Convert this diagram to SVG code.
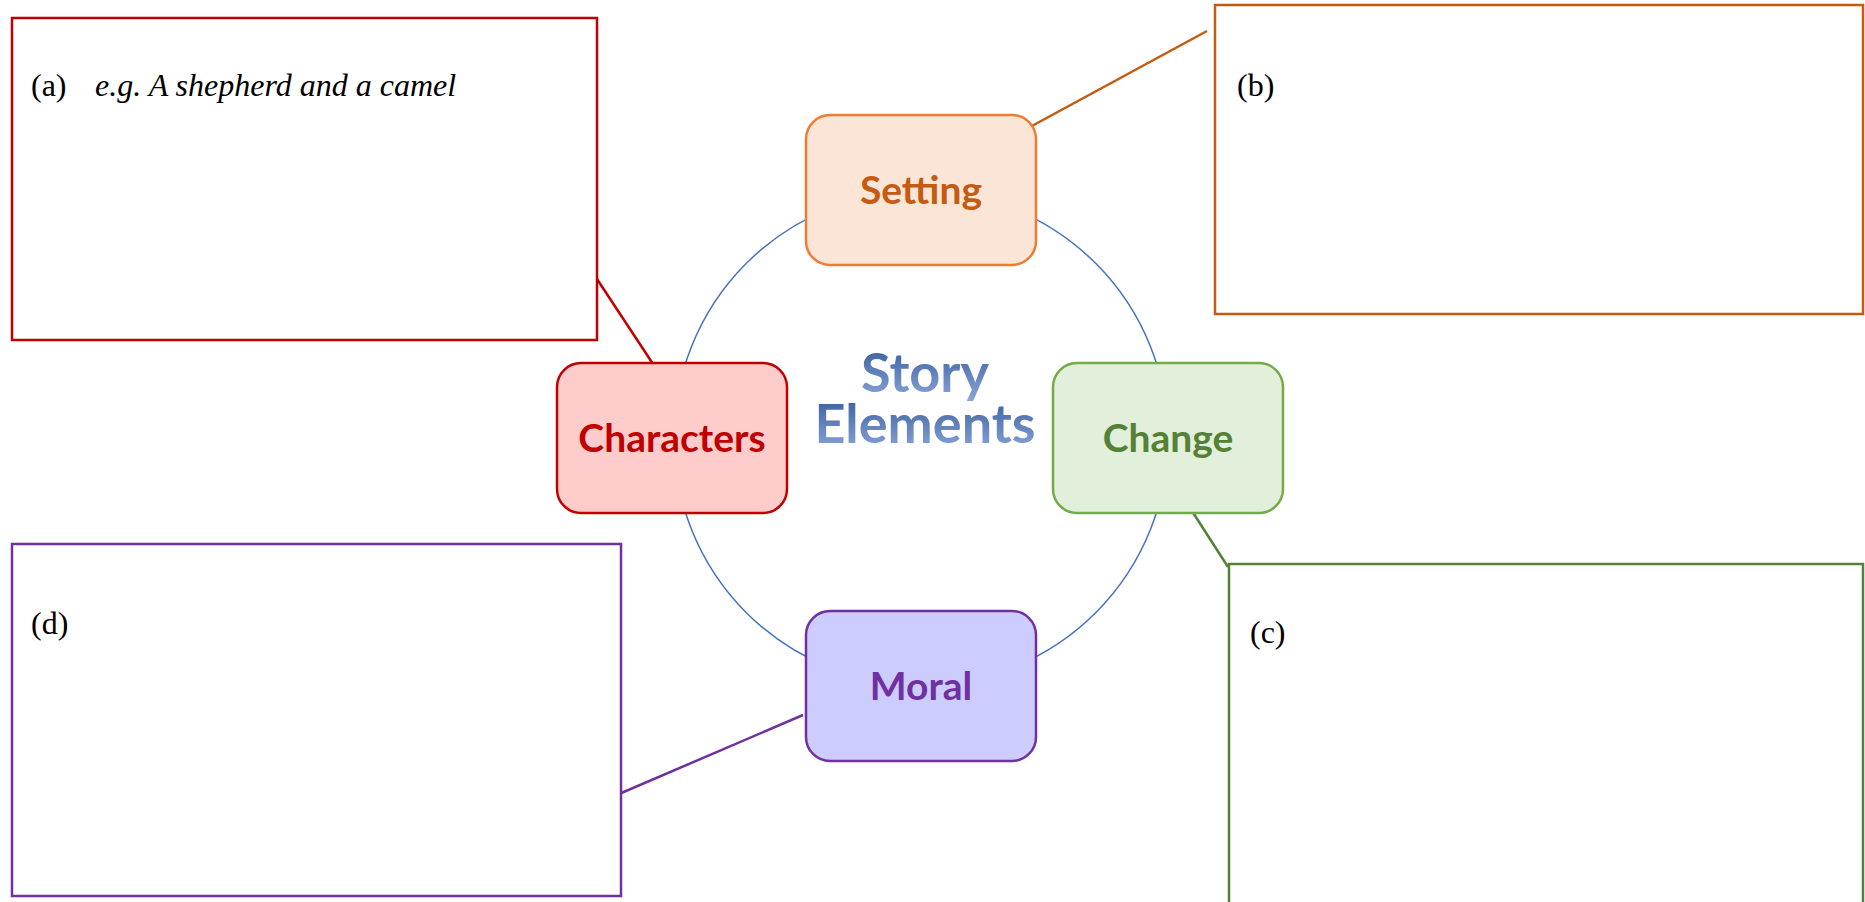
<svg xmlns="http://www.w3.org/2000/svg" width="1865" height="902" viewBox="0 0 1865 902">
<defs>
<linearGradient id="tg" x1="0" y1="0" x2="0" y2="1">
<stop offset="0" stop-color="#2F5597"/>
<stop offset="1" stop-color="#8FAADC"/>
</linearGradient>
</defs>
<style>
.box{fill:#fff;stroke-width:2.5}
.node{stroke-width:2.5}
.lbl{font-family:"Liberation Serif","Times New Roman",serif;font-size:32px;fill:#000}
.nt{font-family:Lato,"Open Sans",sans-serif;font-weight:bold;font-size:39px;text-anchor:middle}
.tt{font-family:Lato,"Open Sans",sans-serif;font-weight:bold;font-size:54px;text-anchor:middle;fill:url(#tg)}
.conn{fill:none;stroke-width:2.5}
</style>
<rect width="1865" height="902" fill="#fff"/>
<circle cx="921" cy="438" r="247" fill="none" stroke="#4472C4" stroke-width="1.5"/>
<g id="connectors">
<line class="conn" x1="595" y1="276" x2="655" y2="367" stroke="#C00000"/>
<line class="conn" x1="1030" y1="127" x2="1207" y2="31" stroke="#C55A11"/>
<line class="conn" x1="1192" y1="511" x2="1228" y2="567" stroke="#538135"/>
<line class="conn" x1="803" y1="715" x2="619" y2="794" stroke="#7030A0"/>
</g>
<g id="box-a">
<rect class="box" x="12" y="18" width="585" height="322" stroke="#C00000"/>
<text class="lbl" x="31" y="96">(a)</text>
<text class="lbl" x="95" y="96" font-style="italic">e.g. A shepherd and a camel</text>
</g>
<g id="box-b">
<rect class="box" x="1215" y="5" width="648" height="309" stroke="#C55A11"/>
<text class="lbl" x="1237" y="96">(b)</text>
</g>
<g id="box-c">
<rect class="box" x="1229" y="564" width="634" height="350" stroke="#538135"/>
<text class="lbl" x="1250" y="643">(c)</text>
</g>
<g id="box-d">
<rect class="box" x="12" y="544" width="609" height="352" stroke="#7030A0"/>
<text class="lbl" x="31" y="634">(d)</text>
</g>
<g id="setting">
<rect class="node" x="806" y="115" width="230" height="150" rx="24" fill="#FBE5D6" stroke="#ED7D31"/>
<text class="nt" x="921" y="204" fill="#C55A11">Setting</text>
</g>
<g id="characters">
<rect class="node" x="557" y="363" width="230" height="150" rx="24" fill="#FFCCCC" stroke="#C00000"/>
<text class="nt" x="672" y="452" fill="#C00000">Characters</text>
</g>
<g id="change">
<rect class="node" x="1053" y="363" width="230" height="150" rx="24" fill="#E2EFDA" stroke="#70AD47"/>
<text class="nt" x="1168" y="452" fill="#538135">Change</text>
</g>
<g id="moral">
<rect class="node" x="806" y="611" width="230" height="150" rx="24" fill="#CCCCFF" stroke="#7030A0"/>
<text class="nt" x="921" y="700" fill="#7030A0">Moral</text>
</g>
<g id="title">
<text class="tt" x="925" y="392">Story</text>
<text class="tt" x="925" y="443">Elements</text>
</g>
</svg>
